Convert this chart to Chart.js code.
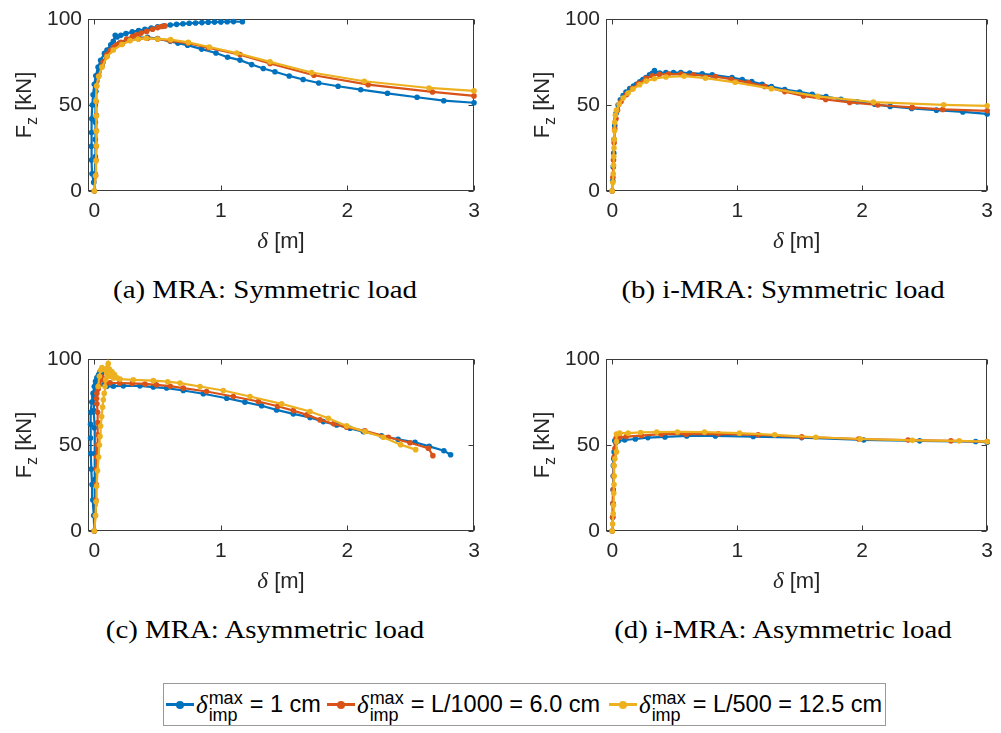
<!DOCTYPE html>
<html><head><meta charset="utf-8">
<script src="https://cdn.jsdelivr.net/npm/chart.js@4.4.1/dist/chart.umd.min.js"></script>
<style>
html,body{margin:0;padding:0;background:#fff;width:1001px;height:733px;overflow:hidden;position:relative;}
canvas{position:absolute;}
.cap{position:absolute;font-family:'Liberation Serif',serif;font-size:25px;color:#000;white-space:nowrap;transform:translate(-50%,-50%) scaleX(1.155);}
#leg{position:absolute;left:163px;top:683px;width:723px;height:43px;border:1px solid #999;box-sizing:border-box;background:#fff;}
.li{position:absolute;top:683px;height:43px;display:flex;align-items:center;font-family:'Liberation Sans',sans-serif;color:#000;white-space:nowrap;}
.ls{width:28px;height:3px;position:relative;display:inline-block;}
.ls i{position:absolute;left:50%;top:50%;width:8px;height:8px;border-radius:50%;transform:translate(-50%,-50%);}
.dl{font-family:'Liberation Serif',serif;font-style:italic;font-size:25px;margin-left:2px;}
.ss{display:inline-flex;flex-direction:column;font-size:18px;line-height:17px;margin-left:1px;margin-top:5px;}
.lt{font-size:23.5px;margin-left:7px;}
</style></head><body>
<canvas id="ca" width="500" height="260" style="left:0;top:0"></canvas>
<canvas id="cb" width="501" height="260" style="left:500px;top:0"></canvas>
<canvas id="cc" width="500" height="260" style="left:0;top:340px"></canvas>
<canvas id="cd" width="501" height="260" style="left:500px;top:340px"></canvas>
<div class="cap" style="left:265px;top:290px">(a) MRA: Symmetric load</div>
<div class="cap" style="left:783px;top:290px">(b) i-MRA: Symmetric load</div>
<div class="cap" style="left:265px;top:630px">(c) MRA: Asymmetric load</div>
<div class="cap" style="left:783px;top:630px">(d) i-MRA: Asymmetric load</div>
<div id="leg"></div>
<script>
// ---------- data ----------
const xTicks = [0, 1, 2, 3];
const yTicks = [0, 50, 100];
const seriesNames = ['= 1 cm', '= L/1000 = 6.0 cm', '= L/500 = 12.5 cm'];

// (a) MRA: Symmetric load
const A_blue_main = [[0,0],[0.005,10],[0.008,20],[0.008,30],[0.008,40],[0.008,50],[0.012,58],[0.02,64],[0.035,69],[0.06,74],[0.1,79],[0.15,83],[0.2,86],[0.27,88],[0.35,89],[0.42,89.3],[0.5,88.6],[0.6,87],[0.66,86],[0.737,84.8],[0.848,82.5],[0.961,80.2],[1.053,77.8],[1.151,76.1],[1.243,73.5],[1.335,71.2],[1.427,69.3],[1.54,66.9],[1.65,64.8],[1.773,62.8],[1.926,60.9],[2.105,58.9],[2.316,56.8],[2.55,54.5],[2.761,52.5],[3.0,51.3]];
const A_blue_branch = [[-0.005,5],[-0.018,10],[-0.022,18],[-0.023,26],[-0.022,34],[-0.02,42],[-0.016,50],[-0.01,56],[0.0,62],[0.012,67],[0.03,72],[0.05,76],[0.08,80],[0.1,82],[0.13,85],[0.15,87],[0.165,90.5],[0.18,89.5],[0.21,90.5],[0.25,91.5],[0.3,92.5],[0.35,93.3],[0.4,94],[0.45,94.8],[0.5,95.4],[0.55,96],[0.6,96.5],[0.65,96.9],[0.7,97.2],[0.75,97.5],[0.8,97.7],[0.85,97.9],[0.9,98.1],[0.95,98.2],[1.0,98.3],[1.05,98.4],[1.1,98.5],[1.17,98.4]];
const A_red_main = [[0,0],[0.01,9],[0.013,18],[0.015,26],[0.016,35],[0.016,44],[0.014,52],[0.018,61],[0.035,67],[0.06,72.5],[0.1,78.5],[0.15,82.5],[0.22,85.5],[0.28,87.5],[0.35,88.5],[0.42,88.8],[0.5,88.4],[0.6,87.3],[0.74,86],[0.9,83.3],[1.151,79.3],[1.388,74.1],[1.735,67.3],[2.164,61.8],[2.672,57.6],[3.0,55.3]];
const A_red_branch = [[0.07,75],[0.1,79.5],[0.125,81.5],[0.15,83.5],[0.178,85],[0.21,86.5],[0.256,88.3],[0.3,89.8],[0.334,90.8],[0.37,91.8],[0.413,92.8],[0.46,94],[0.5,95],[0.53,95.6],[0.558,96]];
const A_yellow = [[0,0],[0.01,8.8],[0.013,17.5],[0.016,26.3],[0.016,34.8],[0.016,43.6],[0.013,52.3],[0.018,61.1],[0.034,66.5],[0.06,72],[0.1,78],[0.15,82],[0.217,85.2],[0.282,87.4],[0.347,88.4],[0.41,88.8],[0.5,88.4],[0.603,88],[0.743,86.4],[0.909,83.7],[1.125,80.2],[1.388,75.1],[1.717,68.9],[2.133,63.8],[2.644,59.9],[3.0,58.2]];

// (b) i-MRA: Symmetric load
const B_blue = [[0,0],[0.004,6],[0.008,14],[0.012,22],[0.015,30],[0.02,38],[0.03,45],[0.047,50],[0.065,53],[0.087,55.5],[0.11,57.5],[0.14,59.5],[0.17,61],[0.193,62],[0.22,63.5],[0.245,64.8],[0.27,66],[0.298,67.5],[0.32,68.5],[0.338,70],[0.35,68.5],[0.38,68.6],[0.43,68.9],[0.49,68.9],[0.549,68.9],[0.62,68.6],[0.72,68.1],[0.8,67.5],[0.958,66],[1.04,64.8],[1.116,63.6],[1.2,62],[1.274,60.7],[1.38,59],[1.499,57.6],[1.6,56.2],[1.71,54.9],[1.83,53.3],[1.96,51.9],[2.1,50.4],[2.224,49.2],[2.396,48],[2.594,47],[2.805,46],[3.0,44.8]];
const B_red = [[0,0],[0.005,8],[0.01,18],[0.015,28],[0.02,36],[0.03,42],[0.042,47],[0.07,52],[0.113,56],[0.16,59.5],[0.21,62.5],[0.272,65.5],[0.32,67],[0.377,67.8],[0.45,68],[0.549,68],[0.65,67.6],[0.826,66.5],[0.95,65],[1.09,63],[1.22,60.8],[1.38,57.8],[1.53,55.3],[1.708,53.2],[1.9,51.5],[2.125,50],[2.4,48.6],[2.644,47.4],[3.0,46.6]];
const B_yellow = [[0,0],[0.005,5],[0.008,10],[0.01,15],[0.012,20],[0.014,25],[0.016,30],[0.018,35],[0.02,40],[0.025,44],[0.034,47],[0.055,50.5],[0.087,54],[0.127,57],[0.166,59.3],[0.219,61.8],[0.272,63.9],[0.337,65.3],[0.43,66.3],[0.575,66.8],[0.746,65.6],[0.983,63.2],[1.273,59.5],[1.644,55],[2.09,51.7],[2.652,50.1],[3.0,49.5]];

// (c) MRA: Asymmetric load
const C_blue_main = [[0,0],[-0.005,9],[-0.012,18],[-0.018,27],[-0.024,36],[-0.028,45],[-0.03,54],[-0.03,62],[-0.027,69],[-0.02,75],[-0.01,80],[0.0,84],[0.01,87],[0.02,89],[0.035,91],[0.05,92],[0.06,91.5],[0.07,88],[0.08,85],[0.097,84],[0.15,84.2],[0.229,84.4],[0.36,84.4],[0.466,83.7],[0.571,83.1],[0.703,81.7],[0.861,79.8],[1.046,77.2],[1.19,74.9],[1.322,72.8],[1.44,70.4],[1.572,68.1],[1.704,66],[1.809,63.6],[1.915,61.7],[2.02,59.7],[2.125,57.8],[2.27,55.4],[2.4,53.3],[2.534,51.6],[2.646,49.2],[2.762,46.7],[2.815,44.3]];
const C_blue_inner = [[0,0],[0.003,15],[0.005,30],[0.005,45],[0.0,60],[-0.005,70],[-0.003,78],[0.01,85],[0.03,90],[0.045,92.5]];
const C_red = [[0,0],[0.008,9],[0.012,18],[0.015,27],[0.017,36],[0.018,43],[0.022,50],[0.026,56],[0.027,63],[0.026,69],[0.02,74],[0.018,77],[0.02,80],[0.03,82.5],[0.04,85],[0.05,88],[0.06,89.5],[0.075,88],[0.09,86.8],[0.124,86.2],[0.2,86],[0.3,85.8],[0.4,85.5],[0.49,85],[0.6,84.2],[0.703,83.1],[0.887,81.1],[1.098,78.2],[1.296,75.3],[1.45,72.5],[1.572,70],[1.68,67.5],[1.783,64.6],[1.89,62.3],[1.994,60.3],[2.138,58.2],[2.323,54.5],[2.494,51.3],[2.639,48.1],[2.675,43.8]];
const C_yellow_main = [[0,0],[0.01,9],[0.014,17],[0.018,26],[0.025,35],[0.034,43],[0.04,50],[0.045,55],[0.05,61],[0.058,66.5],[0.065,72],[0.071,76.3],[0.078,80],[0.084,84],[0.09,88],[0.097,91.8],[0.105,95],[0.11,97.3],[0.12,94],[0.14,92.5],[0.16,91],[0.18,89],[0.203,88.3],[0.308,87.9],[0.466,87.4],[0.58,86.8],[0.677,86],[0.835,84],[1.019,81.7],[1.23,78.2],[1.48,73.9],[1.704,69.5],[1.849,65.5],[1.994,61.1],[2.138,57.8],[2.283,54.5],[2.42,50.2],[2.539,47.3]];
const C_yellow_peak = [[0.03,84],[0.04,90],[0.05,93.5],[0.06,95],[0.08,94],[0.1,92],[0.12,90],[0.15,89]];

// (d) i-MRA: Asymmetric load
const D_blue = [[0,0],[0.003,8],[0.005,16],[0.007,24],[0.008,32],[0.009,38],[0.012,42],[0.015,46],[0.02,52.4],[0.03,51.5],[0.05,52.5],[0.1,52.9],[0.185,53.5],[0.285,54.3],[0.422,54.7],[0.596,55.3],[0.825,55.3],[1.128,54.9],[1.516,54.3],[2.012,52.9],[2.46,52.4],[2.908,52],[3.0,51.6]];
const D_red = [[0,0],[0.004,8],[0.006,16],[0.008,24],[0.01,32],[0.012,38],[0.015,43],[0.021,48],[0.03,53.9],[0.06,54.5],[0.113,54.9],[0.232,55.5],[0.39,56.3],[0.593,56.3],[0.85,56.5],[1.168,55.9],[1.516,54.7],[1.972,53.5],[2.367,52.9],[2.71,52.4],[3.0,52]];
const D_yellow = [[0,0],[0.003,4],[0.008,10],[0.01,15],[0.012,22],[0.014,27],[0.016,32],[0.014,38],[0.021,42],[0.034,46],[0.034,52],[0.034,56.3],[0.06,56.9],[0.127,56.9],[0.227,57.3],[0.356,57.5],[0.522,57.6],[0.738,57.5],[1.018,56.9],[1.3,55.9],[1.629,54.5],[1.985,53.5],[2.402,52.7],[2.776,52.4],[3.0,52]];

// ---------- styling ----------
const COLORS = ['#0072BD', '#D95319', '#EDB120'];
const AXIS = '#262626';
const SANS = "'Liberation Sans', Arial, sans-serif";
const SERIF = "'Liberation Serif', serif";

const boxPlugin = {
  id: 'box',
  beforeDatasetsDraw(chart) {
    const {ctx, chartArea: a, scales: {x, y}} = chart;
    ctx.save();
    ctx.strokeStyle = '#3a3a3a';
    ctx.lineWidth = 1;
    const L = Math.round(a.left) + 0.5, R = Math.round(a.right) - 0.5;
    const T = Math.round(a.top) + 0.5, B = Math.round(a.bottom) - 0.5;
    ctx.strokeRect(L, T, R - L, B - T);
    const tl = 5;
    ctx.beginPath();
    xTicks.forEach(v => {
      const px = Math.round(x.getPixelForValue(v)) + 0.5;
      ctx.moveTo(px, B); ctx.lineTo(px, B - tl);
      ctx.moveTo(px, T); ctx.lineTo(px, T + tl);
    });
    yTicks.forEach(v => {
      const py = Math.round(y.getPixelForValue(v)) + 0.5;
      ctx.moveTo(L, py); ctx.lineTo(L + tl, py);
      ctx.moveTo(R, py); ctx.lineTo(R - tl, py);
    });
    ctx.stroke();
    ctx.restore();
  },
  afterDraw(chart) {
    const {ctx, chartArea: a} = chart;
    ctx.save();
    ctx.fillStyle = AXIS;
    ctx.textBaseline = 'alphabetic';
    const f1 = 'italic 23px ' + SERIF, f2 = '22px ' + SANS;
    ctx.font = f1; const w1 = ctx.measureText('δ').width;
    ctx.font = f2; const w2 = ctx.measureText(' [m]').width;
    const cx = (a.left + a.right) / 2 - (w1 + w2) / 2;
    const by = a.bottom + 57;
    ctx.font = f1; ctx.fillText('δ', cx, by);
    ctx.font = f2; ctx.fillText(' [m]', cx + w1, by);
    ctx.translate(a.left - 57, (a.top + a.bottom) / 2);
    ctx.rotate(-Math.PI / 2);
    const fF = '22px ' + SANS, fz = '16px ' + SANS;
    ctx.font = fF; const wF = ctx.measureText('F').width, wk = ctx.measureText(' [kN]').width;
    ctx.font = fz; const wz = ctx.measureText('z').width;
    let sx = -(wF + wz + wk) / 2;
    ctx.font = fF; ctx.fillText('F', sx, 0);
    ctx.font = fz; ctx.fillText('z', sx + wF, 6);
    ctx.font = fF; ctx.fillText(' [kN]', sx + wF + wz, 0);
    ctx.restore();
  }
};

function ds(pairs, ci) {
  return {
    data: pairs.map(p => ({x: p[0], y: p[1]})),
    showLine: true,
    borderColor: COLORS[ci],
    backgroundColor: COLORS[ci],
    pointBackgroundColor: COLORS[ci],
    pointBorderWidth: 0,
    pointRadius: 2.8,
    borderWidth: 2.2,
    tension: 0,
    clip: false,
    order: 3 - ci
  };
}

function makeChart(id, curves, yAxisWidth, rightPad) {
  new Chart(document.getElementById(id), {
    type: 'scatter',
    data: {datasets: curves.map(c => ds(c[0], c[1]))},
    options: {
      responsive: false, animation: false, events: [],
      layout: {padding: {top: 19, right: rightPad, left: 0, bottom: 0}},
      plugins: {legend: {display: false}, tooltip: {enabled: false}},
      scales: {
        x: {
          type: 'linear', min: -0.05, max: 3,
          afterBuildTicks: s => { s.ticks = xTicks.map(v => ({value: v})); },
          afterFit: s => { s.height = 69; },
          grid: {display: false, drawTicks: false}, border: {display: false},
          ticks: {font: {family: SANS, size: 21}, color: AXIS, padding: 8, maxRotation: 0, autoSkip: false, callback: v => String(v)}
        },
        y: {
          type: 'linear', min: 0, max: 100,
          afterBuildTicks: s => { s.ticks = yTicks.map(v => ({value: v})); },
          afterFit: s => { s.width = yAxisWidth; },
          grid: {display: false, drawTicks: false}, border: {display: false},
          ticks: {font: {family: SANS, size: 21}, color: AXIS, padding: 6, autoSkip: false, callback: v => String(v)}
        }
      }
    },
    plugins: [boxPlugin]
  });
}

makeChart('ca', [[A_blue_main,0],[A_blue_branch,0],[A_red_main,1],[A_red_branch,1],[A_yellow,2]], 88, 26);
makeChart('cb', [[B_blue,0],[B_red,1],[B_yellow,2]], 106, 9);
makeChart('cc', [[C_blue_main,0],[C_blue_inner,0],[C_red,1],[C_yellow_main,2],[C_yellow_peak,2]], 88, 26);
makeChart('cd', [[D_blue,0],[D_red,1],[D_yellow,2]], 106, 9);

// ---------- legend ----------
const legLeft = [166, 327, 609];
seriesNames.forEach((t, i) => {
  const d = document.createElement('div');
  d.className = 'li';
  d.style.left = legLeft[i] + 'px';
  d.innerHTML = '<span class="ls" style="background:' + COLORS[i] + '"><i style="background:' + COLORS[i] + '"></i></span>' +
    '<span class="dl">δ</span><span class="ss"><span>max</span><span>imp</span></span><span class="lt">' + t + '</span>';
  document.body.appendChild(d);
});
</script>
</body></html>
